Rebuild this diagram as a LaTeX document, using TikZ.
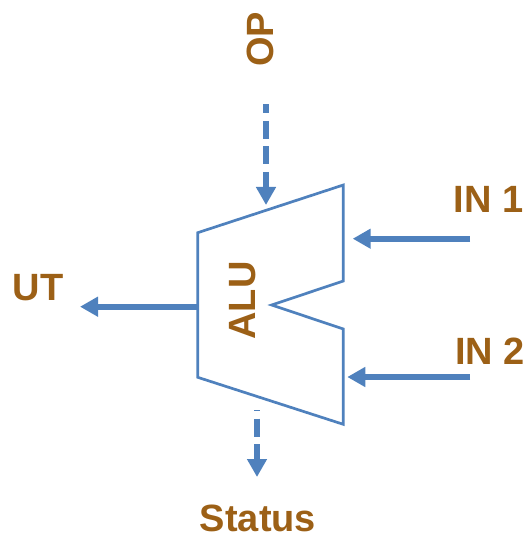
\documentclass[tikz,border=0pt]{standalone}
\usepackage{fontspec}
\setmainfont{Liberation Sans}
\usetikzlibrary{arrows.meta}
\definecolor{linkblue}{RGB}{79,129,189}
\definecolor{labbrown}{RGB}{156,96,22}
\tikzset{
  lbl/.style={text=labbrown, font=\fontsize{38bp}{45bp}\selectfont\bfseries, inner sep=0pt, anchor=base},
  alubox/.style={draw=linkblue, line width=2.7bp, line join=miter},
  sigarrow/.style={draw=linkblue, line width=6bp, -{Triangle[length=18bp,width=19bp]}},
  dasharrow/.style={sigarrow, dash pattern=on 18bp off 7.5bp}
}
\begin{document}
\begin{tikzpicture}[x=1bp,y=-1bp]
\useasboundingbox (0,0) rectangle (530,537);
% ALU outline
\coordinate (tl) at (197.7,232.7);
\coordinate (tr) at (343.3,185);
\coordinate (nu) at (343.3,281);
\coordinate (nt) at (271.7,305);
\coordinate (nl) at (343.3,329);
\coordinate (br) at (343.3,424.3);
\coordinate (bl) at (197.7,377.3);
\draw[alubox] (tl) -- (tr) -- (nu) -- (nt) -- (nl) -- (br) -- (bl) -- cycle;
\node[lbl, rotate=90] (alu) at (255,300.5) {ALU};
% labels
\node[lbl, rotate=90] (op) at (273,39.5) {OP};
\node[lbl] (ut) at (38,300) {UT};
\node[lbl] (in1) at (488.5,212.3) {IN 1};
\node[lbl] (in2) at (490,364.3) {IN 2};
\node[lbl] (status) at (258,531.5) {Status};
% connector end points
\coordinate (opS) at (266,104.3);
\coordinate (opE) at (266,205);
\coordinate (utS) at (197.7,306.7);
\coordinate (utE) at (80,306.7);
\coordinate (in1S) at (470,238.7);
\coordinate (in1E) at (352.7,238.7);
\coordinate (in2S) at (470,377);
\coordinate (in2E) at (347.3,377);
\coordinate (stS) at (257,410);
\coordinate (stE) at (257,477);
% connectors
\draw[dasharrow, dash phase=9bp] (opS) -- (opE);
\draw[sigarrow] (utS) -- (utE);
\draw[sigarrow] (in1S) -- (in1E);
\draw[sigarrow] (in2S) -- (in2E);
\draw[dasharrow, dash phase=17bp] (stS) -- (stE);
\end{tikzpicture}
\end{document}
